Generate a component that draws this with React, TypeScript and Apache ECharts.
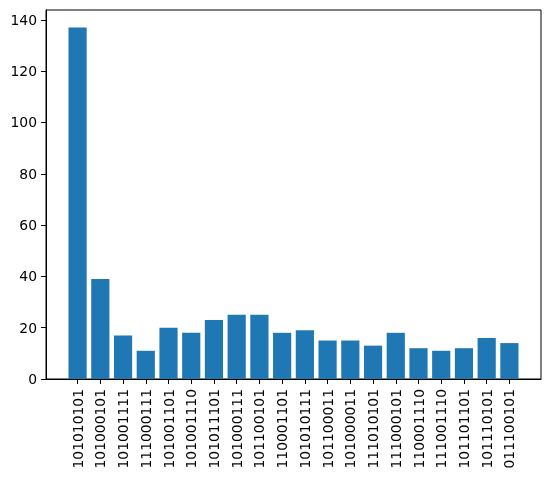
import React, { useEffect, useRef } from "react";
import * as echarts from "echarts";

const categories: string[] = [
  "101010101", "101000101", "101001111", "111000111", "101001101",
  "101001110", "101011101", "101000111", "101100101", "110001101",
  "101010111", "101100011", "101000011", "111010101", "111000101",
  "110001110", "111001110", "101101101", "101110101", "011100101",
];
const counts: number[] = [137, 39, 17, 11, 20, 18, 23, 25, 25, 18, 19, 15, 15, 13, 18, 12, 11, 12, 16, 14];
const yTicks: number[] = [0, 20, 40, 60, 80, 100, 120, 140];

export default function App() {
  const ref = useRef<HTMLDivElement>(null);
  useEffect(() => {
    if (!ref.current) return;
    const chart = echarts.init(ref.current, undefined, { renderer: "svg" });
    const n = categories.length;
    const xMin = -0.4 - 0.05 * (n - 1 + 0.8);
    const xMax = n - 1 + 0.4 + 0.05 * (n - 1 + 0.8);
    const yMax = Math.max(...counts) * 1.05;
    const plotW = 495;
    const pxPerUnit = plotW / (xMax - xMin);
    const idx = categories.map((_, i) => i);
    const font = "DejaVu Sans";
    chart.setOption({
      animation: false,
      grid: {
        left: 46, top: 10, width: plotW, height: 369,
        show: true, borderColor: "#000", borderWidth: 1, backgroundColor: "#fff",
      },
      xAxis: {
        type: "value",
        min: xMin,
        max: xMax,
        splitLine: { show: false },
        axisLine: { show: true, onZero: false, lineStyle: { color: "#000", width: 1 } },
        axisTick: { show: true, customValues: idx, length: 5, lineStyle: { color: "#000" } },
        axisLabel: {
          customValues: idx,
          rotate: 90,
          margin: 10,
          color: "#000",
          fontSize: 13.9,
          fontFamily: font,
          formatter: (v: number) => categories[Math.round(v)] ?? "",
        },
      },
      yAxis: {
        type: "value",
        min: 0,
        max: yMax,
        splitLine: { show: false },
        axisLine: { show: true, onZero: false, lineStyle: { color: "#000", width: 1 } },
        axisTick: { show: true, customValues: yTicks, length: 5, lineStyle: { color: "#000" } },
        axisLabel: {
          customValues: yTicks,
          margin: 9,
          color: "#000",
          fontSize: 13.9,
          fontFamily: font,
        },
      },
      series: [
        {
          type: "bar",
          data: counts.map((v, i) => [i, v]),
          barWidth: 0.8 * pxPerUnit,
          itemStyle: { color: "#1f77b4" },
        },
      ],
    });
    return () => chart.dispose();
  }, []);
  return <div ref={ref} style={{ position: "fixed", left: 0, top: 0, width: 552, height: 478 }} />;
}
